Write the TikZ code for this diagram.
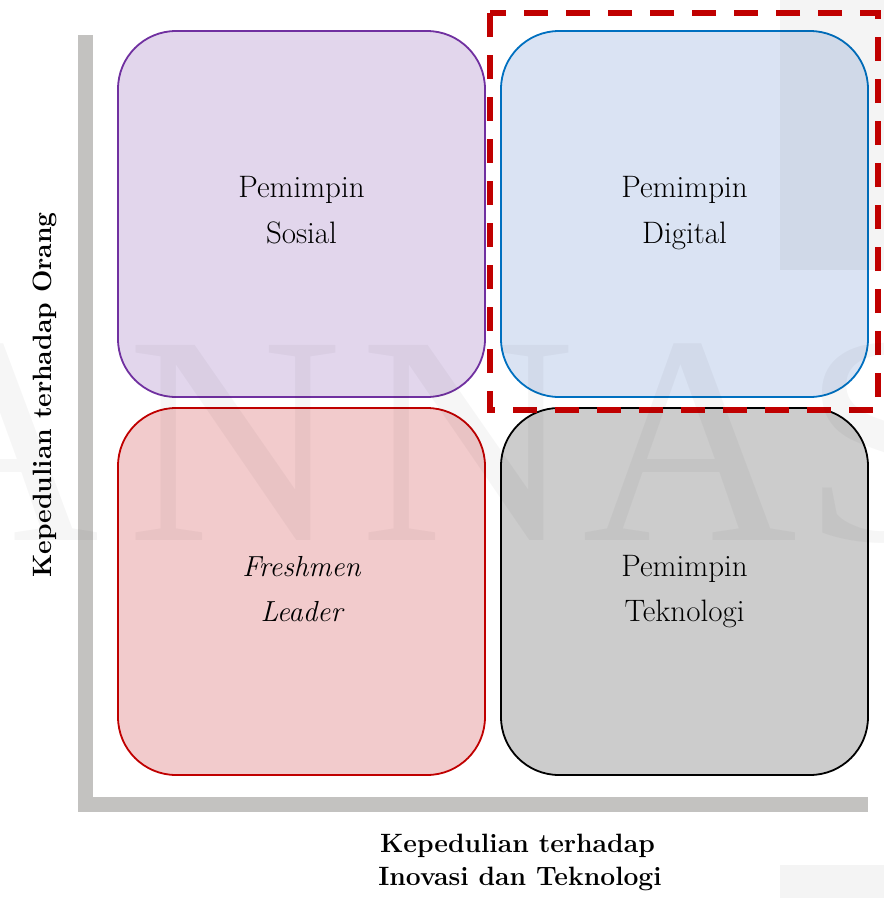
\documentclass[tikz,border=0pt]{standalone}
\usepackage{fontspec}
\newfontfamily\wmfont{Liberation Serif}
\definecolor{axisgray}{HTML}{C3C2C0}
\definecolor{purpfill}{HTML}{E2D6EC}
\definecolor{purpline}{HTML}{7030A0}
\definecolor{bluefill}{HTML}{DAE3F3}
\definecolor{blueline}{HTML}{0070C0}
\definecolor{redfill}{HTML}{F2CBCC}
\definecolor{redline}{HTML}{C00000}
\definecolor{grayfill}{HTML}{CCCCCC}
\tikzset{
  quad/.style={draw, line width=1.8pt, rounded corners=58pt, inner sep=0pt,
    minimum width=367pt, minimum height=366pt},
  lbl/.style={anchor=base, inner sep=0pt, font=\fontsize{31}{37}\selectfont},
  ilbl/.style={anchor=base, inner sep=0pt, font=\fontsize{29}{35}\selectfont\itshape},
  axlbl/.style={anchor=base, inner sep=0pt, font=\fontsize{26.5}{32}\selectfont\bfseries},
  frame/.style={draw=redline, line width=5.5pt, dash pattern=on 24pt off 18pt},
  wm/.style={anchor=base, inner sep=0pt, text=black, text opacity=0.035,
    font=\wmfont\fontsize{298}{300}\selectfont},
  shade/.style={fill=black, fill opacity=0.045}
}
\begin{document}
\begin{tikzpicture}[x=1pt,y=-1pt]
\useasboundingbox (0,0) rectangle (884,898);
\fill[white] (0,0) rectangle (884,898);
% axes
\fill[axisgray] (78,35) rectangle (93,812);
\fill[axisgray] (93,797) rectangle (868,812);
% quadrants
\node[quad, fill=purpfill, draw=purpline] (sosial) at (301.5,214) {};
\node[quad, fill=bluefill, draw=blueline] (digital) at (684.5,214) {};
\node[quad, fill=redfill, draw=redline, minimum height=367pt] (fresh) at (301.5,591.5) {};
\node[quad, fill=grayfill, draw=black, minimum height=367pt] (tekno) at (684.5,591.5) {};
% faint overlays
\fill[shade] (780,0) rectangle (884,270);
\fill[shade] (780,865) rectangle (884,898);
% dashed frame
\draw[frame] (490,13) rectangle (878,410);
% watermark
\node[wm] (wm1) at (-8,540) {A};
\node[wm] (wm2) at (235,540) {N};
\node[wm] (wm3) at (468,540) {N};
\node[wm] (wm4) at (690,540) {A};
\node[wm] (wm5) at (885,540) {S};
% texts
\node[lbl] (s1) at (301.5,197) {Pemimpin};
\node[lbl] (s2) at (301.5,243) {Sosial};
\node[lbl] (d1) at (684.5,197) {Pemimpin};
\node[lbl] (d2) at (684.5,243) {Digital};
\node[ilbl] (f1) at (301.5,576) {Freshmen};
\node[ilbl] (f2) at (301.5,621) {Leader};
\node[lbl] (k1) at (684.5,576) {Pemimpin};
\node[lbl] (k2) at (684.5,621) {Teknologi};
% axis labels
\node[axlbl] (xl1) at (517.5,852) {Kepedulian terhadap};
\node[axlbl] (xl2) at (520,885) {Inovasi dan Teknologi};
\node[axlbl, rotate=90] (yl) at (52,395) {Kepedulian terhadap Orang};
\end{tikzpicture}
\end{document}
